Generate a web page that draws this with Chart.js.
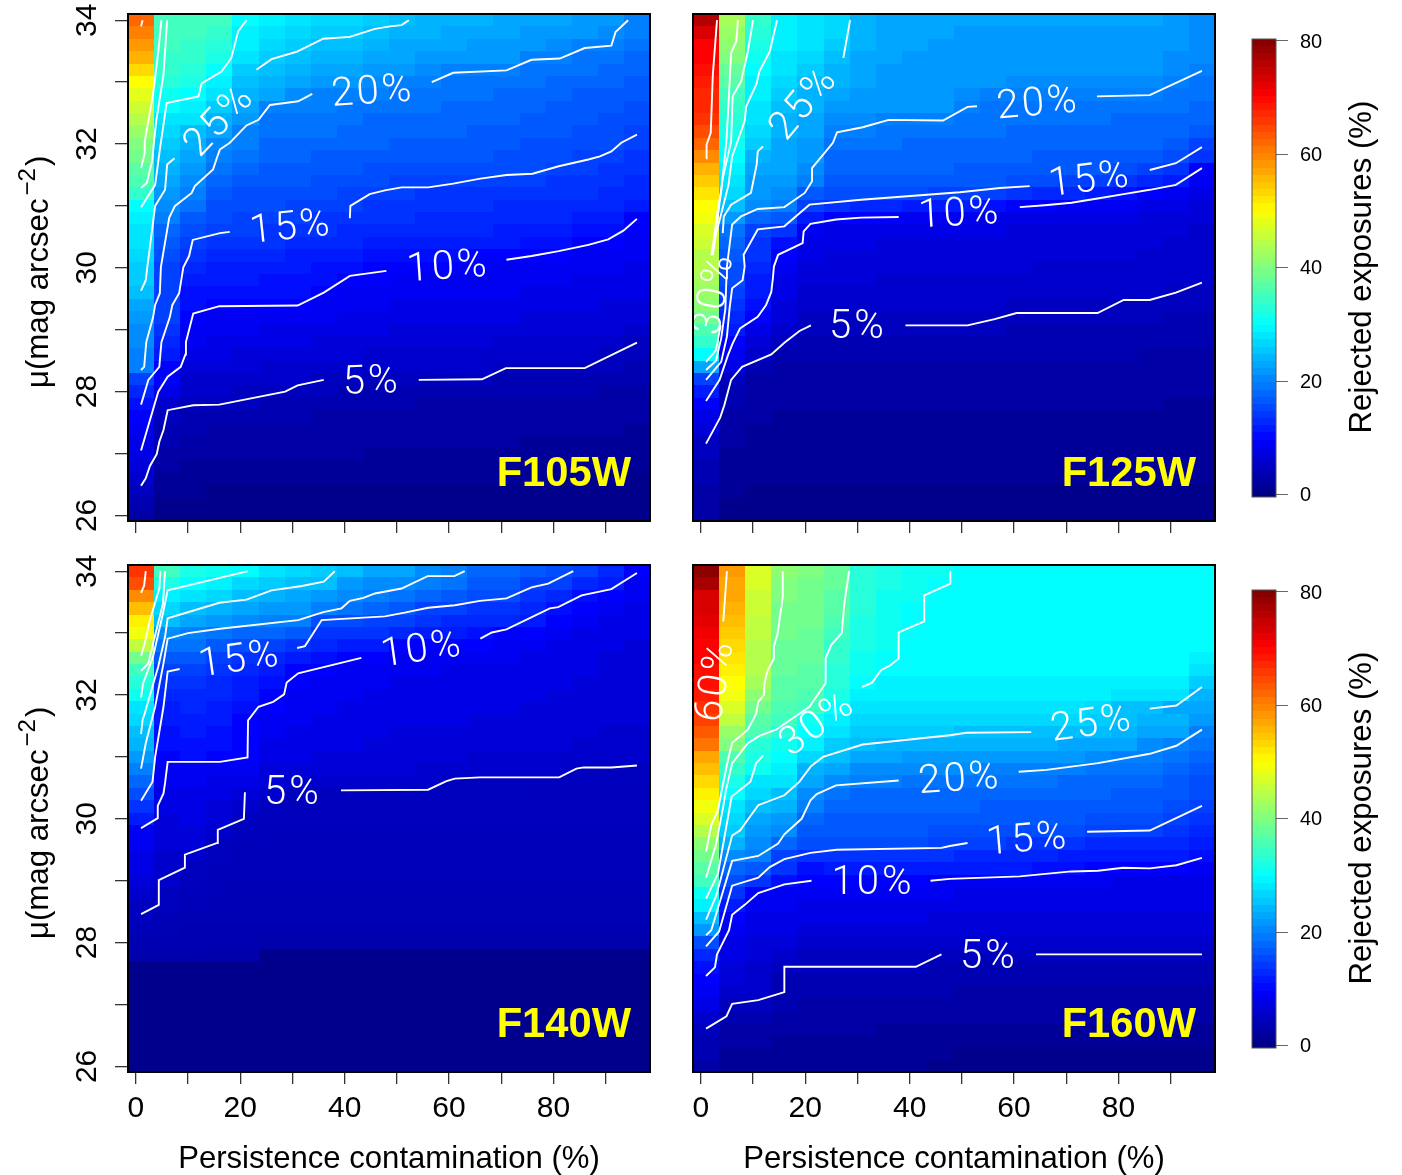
<!DOCTYPE html>
<html>
<head>
<meta charset="utf-8">
<title>Rejected exposures</title>
<script src="https://cdn.jsdelivr.net/npm/chart.js@4"></script>
<style>
  html, body { margin: 0; padding: 0; background: #fff; overflow: hidden; }
  canvas { position: absolute; }
</style>
</head>
<body>
<canvas id="panelF105W" style="left:0;top:0"></canvas>
<canvas id="panelF125W" style="left:673px;top:0"></canvas>
<canvas id="panelF140W" style="left:0;top:551px"></canvas>
<canvas id="panelF160W" style="left:673px;top:551px"></canvas>
<canvas id="barTop" style="left:1240px;top:25px"></canvas>
<canvas id="barBottom" style="left:1240px;top:576px"></canvas>
<script>
const xCols = [1,6,11,16,21,26,31,36,41,46,51,56,61,66,71,76,81,86,91,96];
const yRows = [34,33.8,33.6,33.4,33.2,33,32.8,32.6,32.4,32.2,32,31.8,31.6,31.4,31.2,31,30.8,30.6,30.4,30.2,30,
  29.8,29.6,29.4,29.2,29,28.8,28.6,28.4,28.2,28,27.8,27.6,27.4,27.2,27,26.8,26.6,26.4,26.2,26];
const xTicks = [0,10,20,30,40,50,60,70,80,90];
const yTicks = [26,27,28,29,30,31,32,33,34];
const barTicks = [0,20,40,60,80];

// rejected exposures (%), one line per magnitude row from 34 down to 26
const heatF105W = [
[62,35,35,35,30,29,28,27,27,26,25,24,24,24,23,23,23,22,22,20],
[60,35,35,34,29,28,27,26,26,25,24,24,23,23,23,22,22,22,21,20],
[58,35,34,33,29,27,26,25,25,24,23,23,23,22,22,22,21,20,20,19],
[56,34,34,32,28,26,25,24,24,23,23,22,22,22,22,20,20,19,19,18],
[53,34,33,30,26,25,24,23,23,22,22,21,20,20,20,19,19,19,18,18],
[50,33,32,29,25,24,23,22,22,21,20,20,19,19,19,19,18,18,18,17],
[48,31,30,28,24,23,21,20,20,20,19,19,19,19,18,18,18,17,17,17],
[46,30,29,26,23,20,20,20,19,19,19,19,18,18,18,18,17,17,17,16],
[44,28,28,24,22,19,19,19,19,18,18,18,18,18,18,17,17,17,16,16],
[42,27,25,23,20,19,19,19,18,18,18,18,18,17,17,17,17,16,16,15],
[40,26,24,21,20,18,18,18,18,18,17,17,17,17,17,16,16,16,16,15],
[39,25,23,20,19,18,18,17,17,17,17,17,17,17,16,16,16,15,15,14],
[37,24,22,19,18,17,17,17,17,16,16,16,16,16,16,16,15,15,14,14],
[36,23,21,18,17,17,17,16,16,16,15,15,15,15,15,15,14,14,14,13],
[34,22,20,17,16,16,16,16,15,15,15,14,14,14,14,14,14,14,13,13],
[30,21,19,16,16,16,15,15,15,14,14,14,14,14,13,13,13,13,13,12],
[29,20,17,16,15,15,15,14,14,14,14,13,13,13,13,13,13,12,12,10],
[28,18,16,15,15,14,14,14,13,13,13,13,13,13,12,12,12,11,11,10],
[28,17,15,14,14,14,13,13,13,12,12,12,12,12,12,11,11,10,10,9],
[27,16,14,13,13,13,12,12,12,11,11,11,11,10,10,10,10,9,9,9],
[26,15,13,12,12,12,12,11,11,10,10,10,10,10,9,9,9,9,9,8],
[26,15,12,12,12,11,11,11,10,10,9,9,9,9,9,9,9,8,8,8],
[25,15,11,11,11,11,11,10,9,9,9,9,9,9,9,8,8,8,8,8],
[23,15,11,10,10,10,10,9,9,9,8,8,8,8,8,8,8,8,7,7],
[22,15,10,9,9,9,9,9,8,8,8,8,8,8,8,7,7,7,7,7],
[21,14,9,9,9,8,8,8,8,8,7,7,7,7,7,7,7,7,7,6],
[21,13,9,8,8,8,8,7,7,7,7,7,7,7,6,6,6,6,6,5],
[20,12,8,8,7,7,7,7,7,6,6,6,6,6,6,6,6,6,5,5],
[20,10,7,7,7,6,6,6,6,6,6,6,6,6,5,5,5,5,5,4],
[15,10,6,6,6,6,6,5,5,5,5,5,5,5,4,4,4,4,4,4],
[13,8,6,6,5,5,5,5,4,4,4,4,4,4,4,4,4,4,3,3],
[11,6,5,5,5,4,4,4,4,4,4,3,3,3,3,3,3,3,3,3],
[10,5,4,4,4,4,4,3,3,3,3,3,3,3,3,3,3,3,3,3],
[9,4,4,3,3,3,3,3,3,3,3,3,3,3,3,3,3,3,3,2],
[8,4,3,3,3,3,3,3,3,3,3,3,3,3,3,2,2,2,2,2],
[8,3,3,3,3,3,3,3,3,2,2,2,2,2,2,2,2,2,2,2],
[7,3,2,2,2,2,2,2,2,2,2,2,2,2,2,2,2,2,2,2],
[6,2,2,2,2,2,2,2,2,2,2,2,2,2,2,2,1,1,1,1],
[5,2,2,1,1,1,1,1,1,1,1,1,1,1,1,1,1,1,1,1],
[4,1,1,1,1,1,1,1,1,1,1,1,1,1,1,1,1,1,1,1],
[3,1,1,1,1,1,1,1,1,1,1,1,1,1,1,1,1,1,1,1],
];

const heatF125W = [
[76,43,34,29,28,27,24,23,23,23,23,23,23,23,23,23,23,23,22,21],
[73,42,33,29,28,27,24,23,23,23,22,22,22,22,22,22,22,22,22,21],
[70,41,32,29,28,26,24,23,23,22,22,22,22,22,22,22,22,22,22,21],
[70,40,31,28,27,25,23,23,22,22,22,22,22,22,22,22,22,22,21,21],
[69,38,30,28,26,24,23,22,22,22,22,22,22,22,22,22,22,22,21,20],
[68,37,29,27,25,24,23,22,22,22,22,22,21,21,21,21,21,21,20,19],
[67,35,29,26,24,23,22,22,22,22,21,20,20,20,20,20,20,20,19,19],
[67,34,28,25,24,22,22,22,22,22,20,19,19,19,19,19,19,19,19,18],
[66,33,28,24,23,21,21,20,20,20,19,19,19,19,19,19,18,18,18,18],
[64,32,27,24,23,20,20,19,19,19,19,19,18,18,18,18,18,18,18,17],
[62,31,26,23,22,19,19,19,18,18,18,18,18,18,18,18,18,18,17,15],
[59,30,24,23,22,18,18,18,18,18,18,18,18,17,17,17,17,17,16,14],
[56,29,23,23,21,18,18,18,18,18,17,17,17,17,17,17,16,15,14,10],
[54,28,22,22,20,17,17,17,17,17,17,17,16,16,15,15,14,13,12,9],
[52,27,22,21,17,16,16,16,16,15,15,15,14,13,13,12,11,10,9,8],
[50,25,21,20,15,14,13,13,12,12,12,11,10,10,9,9,9,8,8,7],
[49,22,18,17,12,10,10,10,9,9,9,8,8,8,8,8,8,7,7,7],
[47,19,15,14,9,8,8,8,8,8,8,8,7,7,7,7,7,7,7,6],
[46,18,14,11,8,8,8,7,7,7,7,7,7,7,7,7,7,7,6,6],
[44,17,14,10,8,7,7,7,7,7,7,7,7,7,7,7,7,6,6,6],
[44,16,13,9,7,7,7,7,7,7,7,7,7,6,6,6,6,6,6,6],
[43,16,12,8,7,7,7,6,6,6,6,6,6,6,6,6,6,6,6,6],
[42,15,12,8,6,6,6,6,6,6,6,6,6,6,6,6,6,6,5,5],
[41,14,11,7,6,6,6,6,6,6,6,6,5,5,5,5,5,5,5,5],
[39,13,10,7,5,5,5,5,5,5,5,5,5,5,5,5,5,5,4,4],
[36,12,8,6,5,5,5,5,5,5,5,5,4,4,4,4,4,4,4,4],
[34,10,7,5,4,4,4,4,4,4,4,4,4,4,4,4,4,4,4,4],
[30,9,6,4,4,4,4,4,4,4,4,4,4,4,4,4,4,3,3,3],
[23,8,4,3,3,3,3,3,3,3,3,3,3,3,3,3,3,3,3,3],
[15,5,3,3,3,3,3,3,3,3,3,3,3,3,3,3,3,3,3,3],
[12,4,3,3,3,3,3,3,3,3,3,3,3,3,3,3,3,3,3,3],
[10,4,3,3,3,3,3,3,3,3,3,3,3,3,3,3,3,3,2,2],
[8,3,3,2,2,2,2,2,2,2,2,2,2,2,2,2,2,2,2,2],
[7,3,2,2,2,2,2,2,2,2,2,2,2,2,2,2,2,2,2,2],
[5,3,2,2,2,2,2,2,2,2,2,2,2,2,2,2,2,2,2,2],
[5,2,2,2,2,2,2,2,2,2,2,2,2,2,2,2,2,2,2,2],
[4,2,2,2,2,2,2,2,2,2,2,2,2,2,2,2,2,2,2,2],
[4,2,2,2,2,2,2,2,2,2,2,2,2,2,2,2,2,2,2,2],
[3,2,1,1,1,1,1,1,1,1,1,1,1,1,1,1,1,1,1,1],
[3,1,1,1,1,1,1,1,1,1,1,1,1,1,1,1,1,1,1,1],
[3,1,1,1,1,1,1,1,1,1,1,1,1,1,1,1,1,1,1,1],
];

const heatF140W = [
[66,35,32,31,30,28,27,26,25,23,23,21,20,18,18,17,16,15,13,10],
[64,32,30,29,27,26,25,25,22,21,21,20,19,17,17,15,15,13,12,9],
[59,29,28,27,25,24,23,22,21,20,19,18,17,16,16,14,13,11,10,9],
[55,27,25,24,23,22,22,20,19,18,17,15,15,14,14,13,11,10,9,8],
[51,25,23,22,21,20,20,16,16,15,15,14,13,13,13,12,10,9,8,8],
[49,21,20,19,18,18,17,14,14,14,13,12,12,11,10,10,9,8,8,8],
[45,19,19,17,16,15,14,13,12,12,10,10,10,10,9,9,8,8,8,7],
[39,17,17,15,14,13,12,11,10,10,9,9,9,9,9,8,8,8,7,7],
[35,15,15,14,13,12,10,10,9,9,9,9,8,8,8,8,8,8,7,7],
[33,14,14,13,12,11,10,9,9,9,8,8,8,8,8,8,8,7,7,7],
[31,13,13,13,12,10,9,9,9,8,8,8,8,8,8,8,7,7,7,7],
[28,12,13,12,11,10,9,9,8,8,8,8,8,8,8,7,7,7,7,7],
[27,12,12,12,10,9,9,8,8,8,8,8,8,7,7,7,7,7,7,7],
[25,11,12,11,10,9,8,8,8,8,7,7,7,7,7,7,7,7,6,6],
[24,11,11,11,10,8,8,8,8,7,7,7,7,7,7,7,7,6,6,6],
[22,10,11,10,10,8,8,7,7,7,7,7,7,6,6,6,6,6,6,6],
[20,9,9,9,9,7,7,7,7,7,7,6,6,6,6,6,6,5,5,5],
[18,9,9,8,8,7,6,6,6,6,6,6,5,5,5,5,5,5,5,5],
[16,8,8,8,7,6,5,5,5,5,5,5,5,5,5,4.8,4.8,4.8,4.8,4.8],
[14,8,8,7,6,5,4.8,4.8,4.8,4.8,4.8,4.8,4.8,4.8,4.8,4.8,4.8,4.8,4.8,4.8],
[12,7,8,7,5,4.8,4.8,4.8,4.8,4.8,4.8,4.8,4.8,4.8,4.8,4.8,4.8,4.8,4.8,4.8],
[9,7,7,6,5,4.7,4.7,4.7,4.7,4.7,4.7,4.7,4.7,4.7,4.7,4.7,4.7,4.7,4.7,4.7],
[9,7,7,5,4.7,4.6,4.6,4.6,4.6,4.6,4.6,4.6,4.6,4.6,4.6,4.6,4.6,4.6,4.6,4.6],
[8,6,6,5,4.6,4.6,4.6,4.6,4.6,4.6,4.6,4.6,4.6,4.6,4.6,4.6,4.6,4.6,4.6,4.6],
[8,6,5,4.6,4.5,4.5,4.5,4.5,4.5,4.5,4.5,4.5,4.5,4.5,4.5,4.5,4.5,4.5,4.5,4.5],
[7,6,4.8,4.5,4.4,4.4,4.4,4.4,4.4,4.4,4.4,4.4,4.4,4.4,4.4,4.4,4.4,4.4,4.4,4.4],
[6,5,4.6,4.4,4.3,4.3,4.3,4.3,4.3,4.3,4.3,4.3,4.3,4.3,4.3,4.3,4.3,4.3,4.3,4.3],
[5,5,4.4,4.3,4.2,4.2,4.2,4.2,4.2,4.2,4.2,4.2,4.2,4.2,4.2,4.2,4.2,4.2,4.2,4.2],
[5,4.5,4.2,4.1,4.1,4.1,4.1,4.1,4.1,4.1,4.1,4.1,4.1,4.1,4.1,4.1,4.1,4.1,4.1,4.1],
[4.5,4.2,4,4,4,4,4,4,4,4,4,4,4,4,4,4,4,4,4,4],
[4,4,4,3.8,3.8,3.6,3.6,3.6,3.6,3.6,3.6,3.6,3.6,3.6,3.6,3.6,3.6,3.6,3.6,3.6],
[3.5,3.5,3.5,3.5,3.5,1,1,1,1,1,1,1,1,1,1,1,1,1,1,1],
[1,1,1,1,1,1,1,1,1,1,1,1,1,1,1,1,1,1,1,1],
[1,1,1,1,1,1,1,1,1,1,1,1,1,1,1,1,1,1,1,1],
[1,1,1,1,1,1,1,1,1,1,1,1,1,1,1,1,1,1,1,1],
[1,1,1,1,1,1,1,1,1,1,1,1,1,1,1,1,1,1,1,1],
[1,1,1,1,1,1,1,1,1,1,1,1,1,1,1,1,1,1,1,1],
[1,1,1,1,1,1,1,1,1,1,1,1,1,1,1,1,1,1,1,1],
[1,1,1,1,1,1,1,1,1,1,1,1,1,1,1,1,1,1,1,1],
[1,1,1,1,1,1,1,1,1,1,1,1,1,1,1,1,1,1,1,1],
[1,1,1,1,1,1,1,1,1,1,1,1,1,1,1,1,1,1,1,1],
];

const heatF160W = [
[79,58,47,41,40,38,33,32,31,31,30,30,30,30,30,30,30,30,30,30],
[77,57,47,40,39,38,33,32,31,30,30,30,30,30,30,30,30,30,30,30],
[73,57,46,40,39,37,33,31,31,30,30,30,30,30,30,30,30,30,30,30],
[73,56,46,39,39,37,33,31,30,30,30,30,30,30,30,30,30,30,30,30],
[72,55,45,39,39,36,32,31,30,30,30,30,30,30,30,30,30,30,30,30],
[71,54,45,39,38,35,32,31,30,30,30,30,30,30,30,30,30,30,30,30],
[70,53,44,38,38,34,32,31,30,30,30,30,30,30,30,30,30,30,30,30],
[70,52,44,38,38,34,31,30,30,30,30,30,30,30,30,30,30,30,30,29],
[69,51,44,38,37,33,31,30,30,30,30,30,30,30,30,30,30,30,30,28],
[69,50,43,37,37,33,30,29,29,29,29,29,29,29,29,29,29,29,29,26],
[68,49,41,37,36,32,29,29,29,29,29,29,29,29,29,29,28,28,28,24],
[66,47,39,36,35,30,28,28,28,28,28,28,28,28,28,27,25,25,23,23],
[65,45,37,35,31,29,27,27,27,27,27,27,27,27,27,26,25,24,24,22],
[63,42,36,33,30,28,26,26,26,26,25,25,25,25,25,25,24,23,23,20],
[61,40,33,31,29,26,25,24,24,24,24,24,24,24,23,23,23,21,20,19],
[57,36,32,30,27,25,23,23,22,22,22,22,22,22,22,21,20,20,19,18],
[55,34,31,29,24,23,21,21,21,21,21,20,20,20,20,19,19,19,18,17],
[53,32,28,28,23,21,20,20,19,19,19,19,19,19,18,18,18,18,17,16],
[51,30,27,25,21,19,18,18,18,18,18,18,18,18,18,18,17,17,17,16],
[49,28,25,24,20,18,18,18,18,18,18,17,17,17,17,17,17,17,16,15],
[47,27,23,22,18,17,17,17,17,17,17,17,17,17,17,16,16,16,15,14],
[44,26,22,21,17,17,17,17,17,16,16,16,16,16,16,15,15,15,14,13],
[41,24,21,18,16,16,16,16,16,15,15,15,14,14,14,13,13,13,13,12],
[39,21,20,15,14,14,14,14,14,14,13,13,13,13,12,12,12,12,12,11],
[37,18,17,14,11,12,12,12,12,12,12,12,12,11,11,10,10,10,10,9],
[35,16,14,11,10,10,10,10,10,9,9,9,9,9,9,9,8,8,8,8],
[31,14,10,9,9,9,9,9,9,9,8,8,8,8,8,8,8,8,8,8],
[29,12,9,9,8,8,8,8,8,8,8,8,8,8,8,8,8,8,8,8],
[25,10,8,8,8,8,8,8,8,7,7,7,7,7,7,7,7,7,7,7],
[22,9,8,8,7,7,7,7,7,7,7,7,7,7,7,7,7,7,7,7],
[16,8,7,7,6,6,6,6,6,6,6,6,6,6,6,6,6,6,6,6],
[13,8,7,6,5,5,5,5,5,5,5,5,5,5,5,5,5,5,5,5],
[11,7,6,5,5,5,5,5,5,4,4,4,4,4,4,4,4,4,4,4],
[10,7,6,4,4,4,4,4,4,4,4,4,4,4,4,4,4,4,4,4],
[9,6,6,4,4,4,4,4,4,4,3,3,3,3,3,3,3,3,3,3],
[8,5,5,4,3,3,3,3,3,3,3,3,3,3,3,3,3,3,3,3],
[6,4,4,3,3,3,3,3,3,3,3,3,3,3,3,3,3,3,3,3],
[5,3,3,3,3,3,3,2,2,2,2,2,2,2,2,2,2,2,2,2],
[4,3,3,2,2,2,2,2,2,2,2,2,2,2,2,2,2,2,2,2],
[4,2,2,2,2,2,2,2,2,2,1,1,1,1,1,1,1,1,1,1],
[3,2,2,2,2,2,2,2,2,1,1,1,1,1,1,1,1,1,1,1],
];

// contour pieces, [persistence %, mu], broken where a label sits
const contoursF105W = [
  [[1,26.48],[1.9,26.6],[2.7,26.8],[4,26.99],[4.5,27.19],[5.3,27.38],[6.1,27.7],[11,27.78],[16,27.79],[28.6,28],[31,28.1],[36,28.19]],
  [[54.2,28.19],[66.3,28.2],[70.9,28.38],[86,28.38],[96,28.79]],
  [[1,27.05],[4.3,28],[6.1,28.24],[8.6,28.4],[9.5,28.6],[9.6,28.8],[11,29.26],[16,29.38],[31,29.39],[36,29.6],[41,29.87],[48,29.95]],
  [[71,30.13],[75.8,30.19],[81,30.27],[86.7,30.37],[90.5,30.46],[93.4,30.6],[96,30.79]],
  [[1,27.79],[2.4,28.19],[4.5,28.4],[4.9,28.8],[6.5,29.2],[7,29.4],[8.3,29.59],[9.1,30.01],[10.2,30.19],[10.9,30.45],[16.1,30.56],[18,30.58]],
  [[41,30.8],[41.1,31],[44.8,31.19],[47.7,31.25],[50.9,31.3],[56,31.3],[60.8,31.36],[66,31.44],[71,31.5],[76,31.52],[81,31.64],[86.7,31.75],[88.9,31.8],[91.1,31.88],[93,32.02],[96,32.15]],
  [[1,28.35],[1.6,28.4],[2,28.8],[3.3,29.2],[3.7,29.4],[4.6,29.59],[4.8,30.01],[6.4,30.81],[7.5,31],[10.7,31.21],[11.3,31.32],[14.8,31.59],[15.5,31.77],[16.1,31.91],[18,32.02],[21.2,32.3],[23.5,32.39],[25.7,32.63],[31.1,32.69],[33.8,32.81]],
  [[56.7,33],[60.8,33.15],[71,33.19],[75.8,33.36],[81.2,33.38],[86,33.55],[91.1,33.59],[91.9,33.81],[94.3,34]],
  [[1,29.63],[1.9,29.8],[2.2,30.01],[3.7,31],[5.6,31.26],[6,31.67],[7.4,31.77]],
  [[23.1,33.2],[26,33.37],[30.8,33.49],[35.9,33.7],[41,33.73],[45.8,33.86],[48.7,33.9],[50.9,33.92],[52.3,34]],
  [[1,30.98],[3.7,31.34],[4.6,31.91],[5.9,32.66],[12,32.77],[12.6,32.98],[16.4,33.17],[18.3,33.39],[19.6,33.82],[21.2,34]],
  [[1,31.29],[2.1,31.37],[3.1,31.72],[3.9,32.37],[5.3,33.12],[6,34]],
  [[1,31.61],[1.7,31.85],[1.7,32.04],[3.3,32.8],[4.3,33.49],[4.9,34]],
  [[1.3,34],[1,33.9]],
];

const contoursF125W = [
  [[1,27.16],[3.7,27.58],[4.5,27.78],[5.8,28.19],[7.9,28.4],[13.5,28.6],[16,28.79],[18.9,28.98],[21.1,29.07]],
  [[39.2,29.07],[51.1,29.07],[56.3,29.17],[60.5,29.27],[76,29.27],[81,29.48],[86,29.48],[91,29.6],[96,29.76]],
  [[1,27.85],[3.6,28.19],[5.2,28.59],[6.1,28.78],[7.5,29.02],[10.9,29.21],[12.5,29.4],[13.5,29.61],[13.8,29.83],[14,30.02],[14.8,30.21],[19.5,30.4],[19.7,30.59],[21,30.71],[25.9,30.78],[30.7,30.81],[37.9,30.82]],
  [[61.1,30.98],[65.9,31.01],[71,31.05],[76,31.12],[81,31.19],[86,31.26],[91,31.34],[96,31.61]],
  [[1,28.19],[3.9,28.48],[5,28.89],[5.5,29.34],[6,29.67],[8,29.8],[8.4,30.02],[8.2,30.21],[10.9,30.62],[16,30.67],[20.8,31.02],[30.7,31.1],[49.6,31.22],[57.3,31.29],[63,31.32]],
  [[86,31.58],[91,31.69],[96,31.95]],
  [[1,28.35],[2.9,28.5],[3.9,28.86],[4.7,29.34],[4.9,29.83],[5,30.02],[6,30.7],[7.7,30.83],[10.9,30.95],[16,30.98],[19.9,31.21],[21.3,31.4],[21.3,31.61],[25.3,32.02],[26.1,32.19],[31,32.27],[36,32.39],[46.4,32.38],[51.1,32.6],[52.9,32.61]],
  [[75.9,32.77],[86,32.79],[96,33.18]],
  [[1,28.48],[2.9,28.67],[3.8,29.07]],
  [[4.2,30.56],[4.4,30.83],[5.8,31.02],[9.6,31.21],[10.7,31.67],[10.9,31.88],[11.9,31.96]],
  [[27.3,33.39],[28.6,34]],
  [[2.3,30.21],[2.9,30.54],[4.2,30.97],[5.3,31.34],[6,31.8],[8.4,32.37],[8.7,32.61],[10.7,32.98],[11.2,33.17],[13.2,33.49],[14.6,34]],
  [[2.2,30.2],[2.7,30.54],[3.3,30.86],[4.2,31.45],[5.8,32.04],[6.1,32.77],[7.7,33.01],[9,33.49],[10,34]],
  [[2,30.2],[2.6,30.54],[3.3,30.97],[3.9,31.24],[4.9,32.04],[5.4,32.8],[5.8,33.47],[6.8,33.66],[7.1,34]],
  [[1,31.77],[1.1,31.99],[1.9,32.18],[2,32.42],[2.3,33.12],[3.1,34]],
];

const contoursF140W = [
  [[1,28.46],[4.4,28.61],[4.4,29.01],[9.4,29.21],[9.4,29.42],[15.6,29.61],[15.7,29.82],[20.7,30],[20.9,30.43]],
  [[39.3,30.46],[56,30.47],[59.5,30.61],[61.1,30.65],[65.9,30.67],[81.1,30.67],[84.4,30.81],[85.8,30.83],[91.1,30.83],[96,30.86]],
  [[1,29.85],[4.2,30.01],[4.2,30.21],[5.3,30.41],[5.6,30.58],[6.1,30.92],[16.1,30.92],[21.4,30.99],[21.5,31.59],[23.5,31.81],[26.3,31.89],[28.4,32.01],[28.9,32.2],[31.1,32.35],[43.2,32.6]],
  [[66,32.91],[68.2,33.01],[71,33.06],[79.3,33.4],[80.9,33.42],[85.4,33.61],[91.1,33.71],[96,33.97]],
  [[1,30.29],[3.2,30.6],[3.7,31],[5.3,31.81],[6.1,32.38],[8.4,32.42]],
  [[30.9,32.76],[32.4,32.79],[35.6,33.21],[47.7,33.27],[51.5,33.33],[56,33.41],[61.1,33.45],[65.9,33.52],[71,33.56],[75.8,33.74],[79,33.8],[83.8,34]],
  [[1,30.81],[1.9,31.22],[3.7,31.81],[5.3,32.51],[6.1,32.91],[10,33],[16.1,33.07],[31.1,33.21],[35.9,33.34],[39.4,33.4],[41,33.52],[43.6,33.57],[45.8,33.64],[50.9,33.72],[55.9,33.92],[61,33.92],[63,34]],
  [[1,31.37],[1.3,31.6],[1.7,31.7],[4.3,32.46],[5.6,32.94],[6.1,33.24],[16,33.49],[21.2,33.54],[26,33.69],[31.8,33.76],[36,33.83],[38.1,34]],
  [[1,31.96],[1.4,32.19],[3.3,32.62],[5.2,33.32],[6.1,33.69],[21.5,34]],
  [[1,32.39],[2.4,32.51],[3.3,32.83],[5.2,33.48],[5.6,34]],
  [[1,32.63],[1.7,32.83],[2.7,33.21],[4.5,33.72],[4.7,34]],
  [[1,33.65],[1.6,33.77],[1.9,34]],
];

const contoursF160W = [
  [[1,26.61],[4.9,26.81],[6,27.01],[11,27.07],[16,27.2],[16,27.61],[41.2,27.61],[46.1,27.81]],
  [[64.2,27.81],[96,27.81]],
  [[1,27.46],[2.7,27.6],[3.1,27.81],[5.4,28.2],[6,28.45],[8.4,28.61],[11,28.8],[16,28.94],[21.2,29]],
  [[44,29],[47.7,29.03],[61.1,29.07],[71,29.15],[76.1,29.16],[80.9,29.21],[86,29.2],[91.1,29.25],[96,29.37]],
  [[1,27.94],[3.5,28.18],[6,28.92],[11,29.05],[13.2,29.22],[16,29.35],[21,29.45],[26,29.5],[46.1,29.53],[47.7,29.56],[51.1,29.61]],
  [[74,29.79],[86,29.81],[96,30.21]],
  [[1,28.12],[2,28.2],[6,29.32],[11,29.4],[14.8,29.6],[16,29.75],[19.3,30],[21,30.3],[22.2,30.4],[25.9,30.54],[37.9,30.62]],
  [[60.9,30.76],[66.2,30.79],[76.1,30.9],[86,31.05],[91.1,31.18],[96,31.44]],
  [[1,28.37],[3,28.77],[6,29.73],[7.5,29.81],[11,30.22],[16,30.38],[18.9,30.6],[21.1,30.85],[23.4,31],[31,31.2],[47.7,31.35],[50.9,31.39],[63.3,31.4]],
  [[86,31.78],[91.1,31.83],[96,32.13]],
  [[1,28.71],[3.3,29.12],[5.9,30.36],[9.5,30.6],[10.6,30.9],[11.9,31.02]],
  [[30.9,32.13],[32.8,32.2],[34.5,32.4],[36.1,32.47],[37.9,32.59],[37.9,33.01],[42.8,33.19],[42.8,33.61],[47.8,33.8],[47.8,34]],
  [[1,29.05],[2.9,29.58],[4.3,30.2],[4.8,30.46],[6,30.9],[9,31.22],[11.2,31.34],[14.4,31.44],[20.8,31.81],[23.9,32.19],[23.9,32.59],[25,32.81],[27,33],[27.5,33.48],[28.4,34]],
  [[1,29.47],[2,29.9],[3.3,30.14],[4,30.46],[5.2,30.95],[6,31.23],[9,31.44],[10.6,31.7],[11,31.89],[12.1,32],[12.2,32.19],[12.8,32.4],[14,32.59],[14,32.78],[14.7,32.99],[15.7,33.59],[15.7,34]],
  [[1,31.26],[1.15,31.26]],
  [[4.3,33.19],[5,34]],
];

// text, x, y, angle
const labelsF105W = [["25%",15.8,32.4,-47],["20%",45.4,32.87,-4],["15%",29.7,30.68,-6],["10%",59.8,30.04,-4],["5%",45.2,28.19,-2]];
const labelsF125W = [["30%",2.3,29.59,-80],["25%",19.5,32.68,-50],["20%",64.6,32.68,-5],["15%",74.5,31.45,-7],["10%",49.6,30.9,-3],["5%",30.1,29.08,0]];
const labelsF140W = [["15%",19.9,32.6,-8],["10%",54.8,32.76,-8],["5%",30.1,30.45,0]];
const labelsF160W = [["60%",2.5,32.24,-81],["30%",22.2,31.56,-36],["25%",74.9,31.56,-8],["20%",49.6,30.67,-4],["15%",62.6,29.69,-5],["10%",33,29,0],["5%",55.2,27.8,0]];

Chart.defaults.font.family = "'Liberation Sans', Arial, sans-serif";
Chart.defaults.color = "#000";
Chart.defaults.animation = false;

function jet(t) {
  const c = (k) => Math.round(255 * Math.max(0, Math.min(1, 1.5 - Math.abs(4 * t - k))));
  return `rgb(${c(3)},${c(2)},${c(1)})`;
}

function panelPlugin(opt) {
  return {
    id: "panel",
    beforeDatasetsDraw(chart) {
      const { ctx, scales: { x, y } } = chart;
      opt.heat.forEach((row, j) => {
        const y0 = Math.round(y.getPixelForValue(yRows[j] + 0.1));
        const y1 = Math.round(y.getPixelForValue(yRows[j] - 0.1));
        row.forEach((v, i) => {
          const x0 = Math.round(x.getPixelForValue(xCols[i] - 2.5));
          const x1 = Math.round(x.getPixelForValue(xCols[i] + 2.5));
          ctx.fillStyle = jet(v / 80);
          ctx.fillRect(x0, y0, x1 - x0, y1 - y0);
        });
      });
    },
    afterDatasetsDraw(chart) {
      const { ctx, chartArea: a, scales: { x, y } } = chart;
      ctx.save();
      ctx.fillStyle = "#fff";
      ctx.textAlign = "center";
      ctx.textBaseline = "middle";
      ctx.font = "300 40px Roboto";
      ctx.letterSpacing = "3px";
      opt.labels.forEach(([text, lx, ly, angle]) => {
        ctx.save();
        ctx.translate(x.getPixelForValue(lx), y.getPixelForValue(ly));
        ctx.rotate((angle * Math.PI) / 180);
        ctx.fillText(text, 0, 3);
        ctx.restore();
      });
      ctx.letterSpacing = "0px";
      ctx.fillStyle = "#ffff00";
      ctx.textAlign = "right";
      ctx.textBaseline = "alphabetic";
      ctx.font = "bold 41.7px 'Liberation Sans'";
      ctx.fillText(opt.name, a.right - 19, a.bottom - 35);
      ctx.strokeStyle = "#000";
      ctx.lineWidth = 2;
      ctx.strokeRect(a.left, a.top, a.right - a.left, a.bottom - a.top);
      if (opt.left) {
        ctx.translate(38, 388);
        ctx.rotate(-Math.PI / 2);
        ctx.fillStyle = "#000";
        ctx.textAlign = "left";
        ctx.font = "31.2px 'Liberation Sans'";
        const head = "\u03bc(mag arcsec";
        ctx.fillText(head, 0, 10);
        let pos = ctx.measureText(head).width + 3;
        ctx.font = "24px 'Liberation Sans'";
        ctx.fillText("\u22122", pos, -3);
        pos += ctx.measureText("\u22122").width + 2;
        ctx.font = "31.2px 'Liberation Sans'";
        ctx.fillText(")", pos, 10);
      }
      ctx.restore();
    },
  };
}

function fixedSize(prop, size) {
  return (s) => {
    s[prop] = size;
    s.paddingTop = s.paddingBottom = s.paddingLeft = s.paddingRight = 0;
  };
}

function makePanel(id, opt) {
  const canvas = document.getElementById(id);
  canvas.width = opt.left ? 656 : 548;
  canvas.height = opt.bottom ? 627 : 540;
  new Chart(canvas, {
    type: "scatter",
    data: {
      datasets: opt.contours.map((piece) => ({
        data: piece.map(([x, y]) => ({ x, y })),
        showLine: true,
        tension: 0,
        fill: false,
        pointRadius: 0,
        borderColor: "#fff",
        borderWidth: 1.9,
      })),
    },
    plugins: [panelPlugin(opt)],
    options: {
      responsive: false,
      layout: { padding: { top: 14, right: 6 } },
      plugins: { legend: { display: false }, tooltip: { enabled: false } },
      scales: {
        x: {
          type: "linear",
          min: -1.5,
          max: 98.5,
          afterBuildTicks: (s) => { s.ticks = xTicks.map((value) => ({ value })); },
          afterFit: fixedSize("height", opt.bottom ? 106 : 19),
          grid: { drawOnChartArea: false, tickLength: 12, color: "#333", lineWidth: 1.3 },
          border: { display: false },
          ticks: {
            display: opt.bottom,
            autoSkip: false,
            maxRotation: 0,
            padding: 7,
            font: { size: 30 },
            callback: (v) => (v % 20 === 0 ? String(v) : ""),
          },
          title: {
            display: opt.bottom,
            text: "Persistence contamination (%)",
            font: { size: 31.1 },
            padding: { top: 0, bottom: 0 },
          },
        },
        y: {
          type: "linear",
          min: 25.91,
          max: 34.1,
          afterBuildTicks: (s) => { s.ticks = yTicks.map((value) => ({ value })); },
          afterFit: fixedSize("width", opt.left ? 128 : 20),
          grid: { drawOnChartArea: false, tickLength: opt.left ? 13 : 1, color: "#333", lineWidth: 1.3 },
          border: { display: false },
          ticks: {
            display: opt.left,
            autoSkip: false,
            minRotation: 90,
            maxRotation: 90,
            crossAlign: "center",
            padding: 11,
            font: { size: 30 },
            callback: (v) => (v % 2 === 0 ? String(v) : ""),
          },
        },
      },
    },
  });
}

function makeColorBar(id) {
  const canvas = document.getElementById(id);
  canvas.width = 162;
  canvas.height = 480;
  new Chart(canvas, {
    type: "scatter",
    data: { datasets: [{ data: [] }] },
    plugins: [{
      id: "colorbar",
      beforeDatasetsDraw(chart) {
        const { ctx, chartArea: a, scales: { y } } = chart;
        for (let i = 0; i < 64; i++) {
          const y0 = Math.round(y.getPixelForValue(((i + 1) / 64) * 80.8 - 0.4));
          const y1 = Math.round(y.getPixelForValue((i / 64) * 80.8 - 0.4));
          ctx.fillStyle = jet((i + 0.5) / 64);
          ctx.fillRect(a.left, y0, a.right - a.left, y1 - y0);
        }
        ctx.strokeStyle = "#555";
        ctx.lineWidth = 1;
        ctx.strokeRect(a.left, a.top, a.right - a.left, a.bottom - a.top);
      },
      afterDatasetsDraw(chart) {
        const { ctx } = chart;
        ctx.save();
        ctx.translate(122, 242);
        ctx.rotate(-Math.PI / 2);
        ctx.fillStyle = "#000";
        ctx.textAlign = "center";
        ctx.textBaseline = "middle";
        ctx.font = "31.2px 'Liberation Sans'";
        ctx.fillText("Rejected exposures (%)", 0, 0);
        ctx.restore();
      },
    }],
    options: {
      responsive: false,
      layout: { padding: { top: 14, bottom: 8, left: 12 } },
      plugins: { legend: { display: false }, tooltip: { enabled: false } },
      scales: {
        x: { type: "linear", min: 0, max: 1, display: false },
        y: {
          type: "linear",
          position: "right",
          min: -0.42,
          max: 80.35,
          afterBuildTicks: (s) => { s.ticks = barTicks.map((value) => ({ value })); },
          afterFit: fixedSize("width", 126),
          grid: { drawOnChartArea: false, tickLength: 12, color: "#666", lineWidth: 1 },
          border: { display: false },
          ticks: { padding: 12, font: { size: 20 }, autoSkip: false, crossAlign: "near", labelOffset: 1 },
        },
      },
    },
  });
}

makePanel("panelF105W", { name: "F105W", heat: heatF105W, contours: contoursF105W, labels: labelsF105W, left: true, bottom: false });
makePanel("panelF125W", { name: "F125W", heat: heatF125W, contours: contoursF125W, labels: labelsF125W, left: false, bottom: false });
makePanel("panelF140W", { name: "F140W", heat: heatF140W, contours: contoursF140W, labels: labelsF140W, left: true, bottom: true });
makePanel("panelF160W", { name: "F160W", heat: heatF160W, contours: contoursF160W, labels: labelsF160W, left: false, bottom: true });
makeColorBar("barTop");
makeColorBar("barBottom");
</script>
</body>
</html>
